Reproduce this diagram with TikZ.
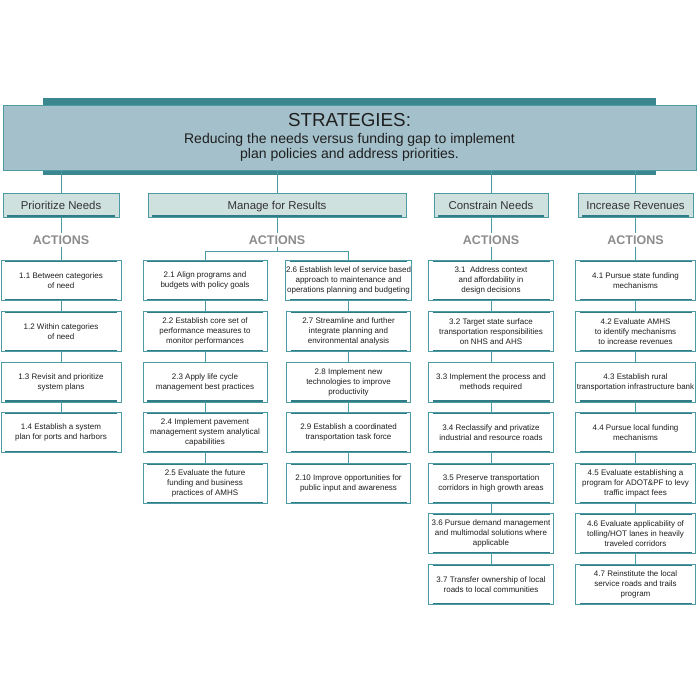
\documentclass[tikz,border=0pt]{standalone}
\usepackage{fontspec}
\setmainfont{Liberation Sans}
\usetikzlibrary{positioning, backgrounds}
\definecolor{hdrFill}{HTML}{A4C0CA}
\definecolor{hdrDark}{HTML}{3A8790}
\definecolor{stratFill}{HTML}{CFE1DF}
\definecolor{tealLine}{HTML}{4C9BA4}
\definecolor{tealDark}{HTML}{2F7C85}
\definecolor{actGray}{HTML}{8C8C8C}

\begin{document}
\begin{tikzpicture}[x=1pt, y=1pt, node distance=9.7pt,
  every node/.style={text=black!88},
  conn/.style={draw=tealLine, line width=0.9pt},
  bevel/.style={path picture={
      \draw[tealDark, line width=1.4pt]
        ([xshift=4pt,yshift=1pt]path picture bounding box.south west) --
        ([xshift=-4pt,yshift=1pt]path picture bounding box.south east);
      \draw[tealDark, line width=0.9pt]
        ([xshift=4pt,yshift=-0.8pt]path picture bounding box.north west) --
        ([xshift=-4pt,yshift=-0.8pt]path picture bounding box.north east);}},
  hdrbox/.style={draw=tealLine, line width=0.9pt, fill=hdrFill,
                 minimum width=693pt, minimum height=65pt, align=center,
                 font=\fontsize{14}{15.5}\selectfont},
  stratbox/.style={draw=tealLine, line width=0.9pt, fill=stratFill, bevel,
                   minimum height=24pt, inner sep=0pt,
                   text height=8.3pt, text depth=0pt, text=black!80,
                   font=\fontsize{11.4}{13}\selectfont},
  actlbl/.style={font=\fontsize{12.5}{14}\selectfont\bfseries,
                 text=actGray, inner sep=2pt},
  actbox/.style={draw=tealLine, line width=0.9pt, fill=white, bevel,
                 minimum height=40pt, align=center, inner sep=0.5pt,
                 font=\fontsize{8}{10}\selectfont},
  colA/.style={actbox, minimum width=120pt},
  colB/.style={actbox, minimum width=124pt},
  colC/.style={actbox, minimum width=125pt},
  colD/.style={actbox, minimum width=120pt}]

  \useasboundingbox (0,0) rectangle (700,-700);

  %% ═══════════════════════════════════════════════════════════════
  %% HEADER: STRATEGIES
  %% ═══════════════════════════════════════════════════════════════

  \node[hdrbox] (hdr) at (349.5,-137.5)
      {{\fontsize{18.8}{20}\selectfont STRATEGIES:}\\[1.5pt]
       Reducing the needs versus funding gap to implement\\
       plan policies and address priorities.};

  \begin{scope}[on background layer]
    \fill[hdrDark] ([xshift=40pt]hdr.north west) rectangle ([xshift=-40pt,yshift=7pt]hdr.north east);
    \fill[hdrDark] ([xshift=40pt]hdr.south west) rectangle ([xshift=-40pt,yshift=-5pt]hdr.south east);
  \end{scope}

  %% ═══════════════════════════════════════════════════════════════
  %% ROW 1: STRATEGY BOXES
  %% ═══════════════════════════════════════════════════════════════

  \node[stratbox, minimum width=116pt] (prio) at (61,-205)    {Prioritize Needs};
  \node[stratbox, minimum width=258pt] (mfr)  at (277,-205)   {Manage for Results};
  \node[stratbox, minimum width=114pt] (cons) at (491,-205)   {Constrain Needs};
  \node[stratbox, minimum width=115pt] (incr) at (635.5,-205) {Increase Revenues};

  \draw[conn] (hdr.south -| prio) -- (prio.north);
  \draw[conn] (hdr.south -| mfr)  -- (mfr.north);
  \draw[conn] (hdr.south -| cons) -- (cons.north);
  \draw[conn] (hdr.south -| incr) -- (incr.north);

  %% ═══════════════════════════════════════════════════════════════
  %% ROW 2: ACTIONS LABELS
  %% ═══════════════════════════════════════════════════════════════

  \node[actlbl, below=16pt of prio] (act1) {ACTIONS};
  \node[actlbl, below=16pt of mfr]  (act2) {ACTIONS};
  \node[actlbl, below=16pt of cons] (act3) {ACTIONS};
  \node[actlbl, below=16pt of incr] (act4) {ACTIONS};

  \draw[conn] (prio) -- (act1);
  \draw[conn] (mfr)  -- (act2);
  \draw[conn] (cons) -- (act3);
  \draw[conn] (incr) -- (act4);

  %% ═══════════════════════════════════════════════════════════════
  %% COLUMN 1: PRIORITIZE NEEDS
  %% ═══════════════════════════════════════════════════════════════

  \node[colA, below=43pt of prio] (a11) {1.1 Between categories\\of need};
  \node[colA, below=of a11] (a12) {1.2 Within categories\\of need};
  \node[colA, below=of a12] (a13) {1.3 Revisit and prioritize\\system plans};
  \node[colA, below=of a13] (a14) {1.4 Establish a system\\plan for ports and harbors};

  \draw[conn] (act1) -- (a11);
  \draw[conn] (a11) -- (a12);
  \draw[conn] (a12) -- (a13);
  \draw[conn] (a13) -- (a14);

  %% ═══════════════════════════════════════════════════════════════
  %% COLUMN 2: MANAGE FOR RESULTS (two sub-columns)
  %% ═══════════════════════════════════════════════════════════════

  \node[colB, below=43pt of mfr, xshift=-72pt] (a21)
      {2.1 Align programs and\\budgets with policy goals};
  \node[colB, below=of a21] (a22)
      {2.2 Establish core set of\\performance measures to\\monitor performances};
  \node[colB, below=of a22] (a23)
      {2.3 Apply life cycle\\management best practices};
  \node[colB, below=of a23] (a24)
      {2.4 Implement pavement\\management system analytical\\capabilities};
  \node[colB, below=of a24] (a25)
      {2.5 Evaluate the future\\funding and business\\practices of AMHS};

  \node[colB, below=43pt of mfr, xshift=71.5pt] (a26)
      {2.6 Establish level of service based\\approach to maintenance and\\operations planning and budgeting};
  \node[colB, below=of a26] (a27)
      {2.7 Streamline and further\\integrate planning and\\environmental analysis};
  \node[colB, below=of a27] (a28)
      {2.8 Implement new\\technologies to improve\\productivity};
  \node[colB, below=of a28] (a29)
      {2.9 Establish a coordinated\\transportation task force};
  \node[colB, below=of a29] (a210)
      {2.10 Improve opportunities for\\public input and awareness};

  \coordinate[below=4.4pt of act2] (br2);
  \draw[conn] (act2) -- (br2);
  \draw[conn] (a21.north) |- (br2) -| (a26.north);
  \draw[conn] (a21) -- (a22);
  \draw[conn] (a22) -- (a23);
  \draw[conn] (a23) -- (a24);
  \draw[conn] (a24) -- (a25);
  \draw[conn] (a26) -- (a27);
  \draw[conn] (a27) -- (a28);
  \draw[conn] (a28) -- (a29);
  \draw[conn] (a29) -- (a210);

  %% ═══════════════════════════════════════════════════════════════
  %% COLUMN 3: CONSTRAIN NEEDS
  %% ═══════════════════════════════════════════════════════════════

  \node[colC, below=43pt of cons] (a31)
      {3.1\ \ Address context\\and affordability in\\design decisions};
  \node[colC, below=of a31] (a32)
      {3.2 Target state surface\\transportation responsibilities\\on NHS and AHS};
  \node[colC, below=of a32] (a33)
      {3.3 Implement the process and\\methods required};
  \node[colC, below=of a33] (a34)
      {3.4 Reclassify and privatize\\industrial and resource roads};
  \node[colC, below=of a34] (a35)
      {3.5 Preserve transportation\\corridors in high growth areas};
  \node[colC, below=of a35] (a36)
      {3.6 Pursue demand management\\and multimodal solutions where\\applicable};
  \node[colC, below=of a36] (a37)
      {3.7 Transfer ownership of local\\roads to local communities};

  \draw[conn] (act3) -- (a31);
  \draw[conn] (a31) -- (a32);
  \draw[conn] (a32) -- (a33);
  \draw[conn] (a33) -- (a34);
  \draw[conn] (a34) -- (a35);
  \draw[conn] (a35) -- (a36);
  \draw[conn] (a36) -- (a37);

  %% ═══════════════════════════════════════════════════════════════
  %% COLUMN 4: INCREASE REVENUES
  %% ═══════════════════════════════════════════════════════════════

  \node[colD, below=43pt of incr] (a41)
      {4.1 Pursue state funding\\mechanisms};
  \node[colD, below=of a41] (a42)
      {4.2 Evaluate AMHS\\to identify mechanisms\\to increase revenues};
  \node[colD, below=of a42] (a43)
      {4.3 Establish rural\\transportation infrastructure bank};
  \node[colD, below=of a43] (a44)
      {4.4 Pursue local funding\\mechanisms};
  \node[colD, below=of a44] (a45)
      {4.5 Evaluate establishing a\\program for ADOT\&PF to levy\\traffic impact fees};
  \node[colD, below=of a45] (a46)
      {4.6 Evaluate applicability of\\tolling/HOT lanes in heavily\\traveled corridors};
  \node[colD, below=of a46] (a47)
      {4.7 Reinstitute the local\\service roads and trails\\program};

  \draw[conn] (act4) -- (a41);
  \draw[conn] (a41) -- (a42);
  \draw[conn] (a42) -- (a43);
  \draw[conn] (a43) -- (a44);
  \draw[conn] (a44) -- (a45);
  \draw[conn] (a45) -- (a46);
  \draw[conn] (a46) -- (a47);

\end{tikzpicture}
\end{document}
